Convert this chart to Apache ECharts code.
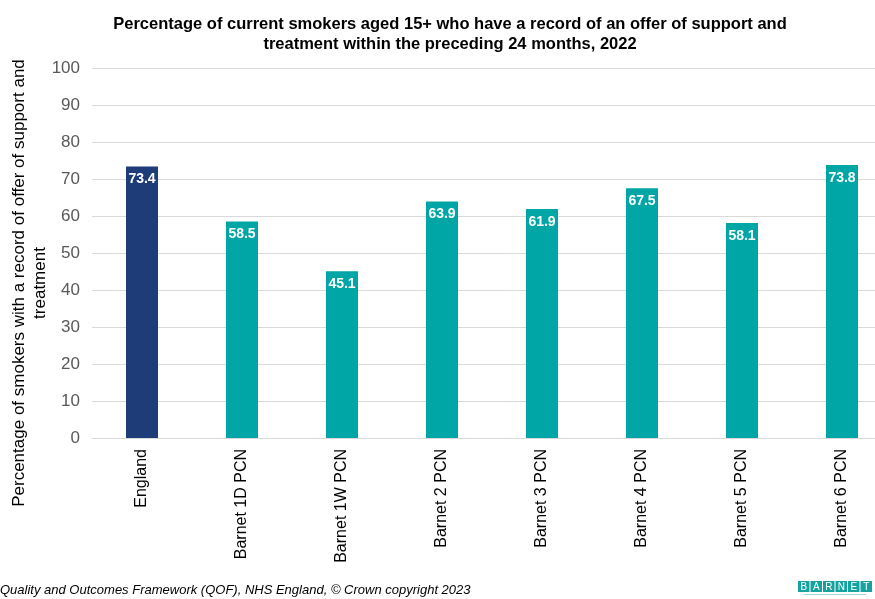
<!DOCTYPE html>
<html>
<head>
<meta charset="utf-8">
<script src="https://cdn.jsdelivr.net/npm/echarts@6/dist/echarts.min.js"></script>
<style>
  html, body { margin: 0; padding: 0; background: #fff; overflow: hidden; }
  #chart { width: 892px; height: 599px; }
</style>
</head>
<body>
<div id="chart"></div>
<script>
// Areas compared
const categories = ['England', 'Barnet 1D PCN', 'Barnet 1W PCN', 'Barnet 2 PCN',
  'Barnet 3 PCN', 'Barnet 4 PCN', 'Barnet 5 PCN', 'Barnet 6 PCN'];
// Percentage of smokers with a recorded offer of support and treatment
const values = [73.4, 58.5, 45.1, 63.9, 61.9, 67.5, 58.1, 73.8];
// Y axis ticks
const yTicks = [0, 10, 20, 30, 40, 50, 60, 70, 80, 90, 100];

const NAVY = '#1d3c78';
const TEAL = '#00a6a6';
const FONT = '"Liberation Sans", Arial, sans-serif';

const chart = echarts.init(document.getElementById('chart'), null, { renderer: 'canvas' });

// Council logo: letters in teal boxes
const logoLetters = ['B', 'A', 'R', 'N', 'E', 'T'];
const logoItems = [];
logoLetters.forEach((ch, i) => {
  logoItems.push({
    type: 'rect',
    shape: { x: i * 12.5, y: 0, width: 11.5, height: 11 },
    style: { fill: '#17a2a2' }
  });
  logoItems.push({
    type: 'text',
    style: {
      x: i * 12.5 + 5.75, y: 6, text: ch, fill: '#fff',
      font: '10px ' + FONT,
      align: 'center', verticalAlign: 'middle'
    }
  });
});
logoItems.push({
  type: 'rect',
  shape: { x: 6, y: 13, width: 62, height: 1 },
  style: { fill: '#9fdada' }
});

chart.setOption({
  animation: false,
  backgroundColor: '#fff',
  textStyle: { fontFamily: FONT },
  title: {
    text: 'Percentage of current smokers aged 15+ who have a record of an offer of support and\ntreatment within the preceding 24 months, 2022',
    left: 445,
    textAlign: 'center',
    top: 9,
    textStyle: {
      fontSize: 16.5, fontWeight: 'bold', color: '#000', lineHeight: 20,
      fontFamily: FONT
    }
  },
  grid: { left: 92, width: 800, top: 68, height: 370, containLabel: false },
  xAxis: {
    type: 'category',
    data: categories,
    axisLine: { show: true, lineStyle: { color: '#d9d9d9', width: 1 } },
    axisTick: { show: false },
    axisLabel: {
      rotate: 90, interval: 0, margin: 11,
      fontSize: 16, color: '#000'
    }
  },
  yAxis: {
    type: 'value',
    min: yTicks[0],
    max: yTicks[yTicks.length - 1],
    interval: 10,
    axisLine: { show: false },
    axisTick: { show: false },
    axisLabel: { fontSize: 17, color: '#595959', margin: 12 },
    splitLine: { lineStyle: { color: '#d9d9d9', width: 1 } }
  },
  series: [{
    type: 'bar',
    data: values.map((v, i) => ({
      value: v,
      itemStyle: { color: i === 0 ? NAVY : TEAL }
    })),
    barWidth: 32,
    label: {
      show: true,
      position: 'insideTop',
      distance: 6,
      color: '#fff',
      fontWeight: 'bold',
      fontSize: 14,
      formatter: p => p.value.toFixed(1)
    }
  }],
  graphic: [
    {
      // Y axis title, two lines, rotated
      type: 'text',
      x: 30,
      y: 283,
      rotation: Math.PI / 2,
      style: {
        text: 'Percentage of smokers with a record of offer of support and\ntreatment',
        font: '17px ' + FONT,
        fill: '#000',
        align: 'center',
        verticalAlign: 'middle',
        lineHeight: 21
      }
    },
    {
      type: 'text',
      left: 0,
      top: 584,
      style: {
        text: 'Quality and Outcomes Framework (QOF), NHS England, \u00a9 Crown copyright 2023',
        font: 'italic 13px ' + FONT,
        fill: '#000'
      }
    },
    {
      type: 'group',
      left: 798,
      top: 581,
      children: logoItems
    }
  ]
});
</script>
</body>
</html>
